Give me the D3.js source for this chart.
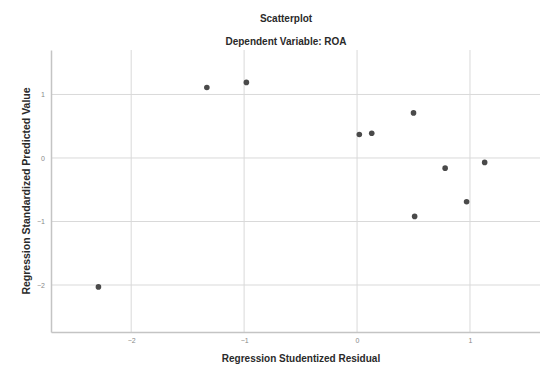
<!DOCTYPE html>
<html>
<head>
<meta charset="utf-8">
<script src="https://cdn.jsdelivr.net/npm/d3@7"></script>
<style>
  body { margin: 0; background: #fff; }
  text { font-family: "Liberation Sans", Arial, sans-serif; }
</style>
</head>
<body>
<div id="chart"></div>
<script>
// Data
const residual = [-1.33, -0.98, -2.29, 0.50, 0.02, 0.13, 1.13, 0.78, 0.97, 0.51];
const predicted = [1.11, 1.19, -2.03, 0.71, 0.37, 0.39, -0.07, -0.16, -0.69, -0.92];
const xTicks = [-2, -1, 0, 1];
const yTicks = [-2, -1, 0, 1];

const width = 540,
    height = 367;
const margin = {top: 50, right: 0, bottom: 35, left: 51};

const svg = d3.select("#chart")
    .append("svg")
    .attr("width", width)
    .attr("height", height);

const x = d3.scaleLinear()
    .domain([-2.71, 1.62])
    .range([margin.left, width - margin.right]);

const y = d3.scaleLinear()
    .domain([-2.74, 1.70])
    .range([height - margin.bottom, margin.top]);

// Grid lines
svg.append("g")
    .selectAll("line")
    .data(xTicks)
    .enter()
    .append("line")
    .attr("x1", d => x(d))
    .attr("x2", d => x(d))
    .attr("y1", margin.top)
    .attr("y2", height - margin.bottom)
    .attr("stroke", "#d9d9d9")
    .attr("stroke-width", 1);

svg.append("g")
    .selectAll("line")
    .data(yTicks)
    .enter()
    .append("line")
    .attr("x1", margin.left)
    .attr("x2", width - margin.right)
    .attr("y1", d => y(d))
    .attr("y2", d => y(d))
    .attr("stroke", "#d9d9d9")
    .attr("stroke-width", 1);

// Axes
const xAxis = svg.append("g")
    .attr("transform", "translate(0," + (height - margin.bottom) + ")")
    .call(d3.axisBottom(x).tickValues(xTicks).tickSize(0).tickPadding(6).tickFormat(d3.format("d")));

const yAxis = svg.append("g")
    .attr("transform", "translate(" + margin.left + ",0)")
    .call(d3.axisLeft(y).tickValues(yTicks).tickSize(0).tickPadding(6).tickFormat(d3.format("d")));

[xAxis, yAxis].forEach(function (a) {
    a.select(".domain").attr("stroke", "#c4c4c4").attr("stroke-width", 1.5);
    a.selectAll("text").attr("fill", "#888").style("font-size", "7px");
});

// Points
svg.append("g")
    .selectAll("circle")
    .data(residual)
    .enter()
    .append("circle")
    .attr("cx", d => x(d))
    .attr("cy", (d, i) => y(predicted[i]))
    .attr("r", 2.8)
    .attr("fill", "#4a4a4a");

// Titles
function label(txt, size) {
    return svg.append("text")
        .attr("text-anchor", "middle")
        .style("font-size", size + "px")
        .style("font-weight", "bold")
        .attr("fill", "#2a2a2a")
        .text(txt);
}

label("Scatterplot", 10).attr("x", 286).attr("y", 22);
label("Dependent Variable: ROA", 10).attr("x", 286).attr("y", 45);
label("Regression Studentized Residual", 10).attr("x", 301).attr("y", 362);
label("Regression Standardized Predicted Value", 10.5)
    .attr("transform", "translate(30,191) rotate(-90)");
</script>
</body>
</html>
